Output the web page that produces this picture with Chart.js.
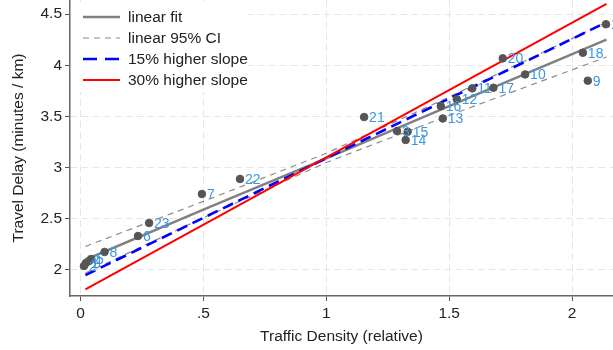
<!DOCTYPE html>
<html>
<head>
<meta charset="utf-8">
<script src="https://cdn.jsdelivr.net/npm/chart.js@4.4.0/dist/chart.umd.min.js"></script>
<style>
  body { margin: 0; background: #fff; }
  #myChart { display: block; }
</style>
</head>
<body>
<canvas id="myChart" width="613" height="350"></canvas>
<script>
// data
var ptLabels = ['2', '1', '4', '5', '8', '6', '23', '7', '22', '21', '3', '15', '14', '13', '16', '12', '11', '17', '10', '20', '18', '9', '19'];
var ptX = [0.014, 0.022, 0.035, 0.043, 0.098, 0.234, 0.279, 0.494, 0.649, 1.154, 1.288, 1.331, 1.323, 1.474, 1.466, 1.531, 1.594, 1.680, 1.809, 1.718, 2.044, 2.064, 2.138];
var ptY = [2.039, 2.068, 2.088, 2.107, 2.176, 2.332, 2.459, 2.742, 2.889, 3.494, 3.357, 3.350, 3.270, 3.480, 3.600, 3.667, 3.774, 3.780, 3.910, 4.067, 4.122, 3.849, 4.400];

var fitX = [0.02, 0.5, 1.0, 1.5, 2.14];
var fitY = [2.10, 2.59, 3.09, 3.60, 4.25];
var ciUpper = [2.23, 2.67, 3.14, 3.69, 4.42];
var ciLower = [1.97, 2.51, 3.05, 3.51, 4.08];

var slopeX = [0.02, 2.14];
var slope15 = [1.95, 4.42];
var slope30 = [1.81, 4.60];

var xTicks = [0, 0.5, 1, 1.5, 2];
var yTicks = [2, 2.5, 3, 3.5, 4, 4.5];

function pairs(xs, ys) {
  return xs.map(function(x, i){ return {x: x, y: ys[i]}; });
}

var font = 'Liberation Sans, Arial, sans-serif';

// labels next to the points
var pointLabels = {
  id: 'pointLabels',
  afterDatasetsDraw: function(chart) {
    var meta = chart.getDatasetMeta(0);
    var ctx = chart.ctx;
    ctx.save();
    ctx.font = '14px ' + font;
    ctx.fillStyle = '#3b97e3';
    ctx.textBaseline = 'middle';
    ctx.textAlign = 'left';
    meta.data.forEach(function(el, i){
      ctx.fillText(ptLabels[i], el.x + 5, el.y + 1);
    });
    ctx.restore();
  }
};

// legend inside the plot, top left
var innerLegend = {
  id: 'innerLegend',
  afterDraw: function(chart) {
    var ctx = chart.ctx;
    var items = chart.data.datasets.slice(1, 5);
    var rows = [17, 38, 59, 80];
    ctx.save();
    ctx.fillStyle = '#fff';
    ctx.fillRect(72, 2, 176, 90);
    items.forEach(function(ds, i){
      ctx.beginPath();
      ctx.strokeStyle = ds.borderColor;
      ctx.lineWidth = ds.borderWidth;
      ctx.setLineDash(ds.legendDash || []);
      ctx.moveTo(83, rows[i]);
      ctx.lineTo(120, rows[i]);
      ctx.stroke();
      ctx.setLineDash([]);
      ctx.fillStyle = '#222';
      ctx.font = '15.5px ' + font;
      ctx.textBaseline = 'middle';
      ctx.fillText(ds.label, 128, rows[i] + 1);
    });
    ctx.restore();
  }
};

// no extra room around the axes
function noPad(s) {
  s.paddingTop = 0;
  s.paddingBottom = 0;
  s.paddingLeft = 0;
  s.paddingRight = 0;
}

var ctx = document.getElementById('myChart');
var chart = new Chart(ctx, {
  type: 'scatter',
  data: {
    datasets: [
      {
        label: 'points',
        data: pairs(ptX, ptY),
        backgroundColor: '#555',
        borderColor: '#555',
        pointRadius: 3.8,
        order: 0
      },
      {
        label: 'linear fit',
        data: pairs(fitX, fitY),
        showLine: true,
        borderColor: '#808080',
        borderWidth: 2.5,
        pointRadius: 0,
        order: 3
      },
      {
        label: 'linear 95% CI',
        data: pairs(fitX, ciUpper),
        showLine: true,
        borderColor: '#8a8a8a',
        borderWidth: 1.2,
        borderDash: [6, 5],
        legendDash: [6, 5],
        pointRadius: 0,
        order: 4
      },
      {
        label: '15% higher slope',
        data: pairs(slopeX, slope15),
        showLine: true,
        borderColor: '#0000ff',
        borderWidth: 2.6,
        borderDash: [11, 6],
        legendDash: [14, 8],
        pointRadius: 0,
        order: 2
      },
      {
        label: '30% higher slope',
        data: pairs(slopeX, slope30),
        showLine: true,
        borderColor: '#ff0000',
        borderWidth: 2,
        pointRadius: 0,
        order: 1
      },
      {
        label: 'ci lower',
        data: pairs(fitX, ciLower),
        showLine: true,
        borderColor: '#8a8a8a',
        borderWidth: 1.2,
        borderDash: [6, 5],
        pointRadius: 0,
        order: 4
      }
    ]
  },
  options: {
    responsive: false,
    animation: false,
    devicePixelRatio: 1,
    layout: { padding: 0, autoPadding: false },
    plugins: {
      legend: { display: false },
      tooltip: { enabled: false }
    },
    scales: {
      x: {
        type: 'linear',
        min: -0.0427,
        max: 2.1666,
        afterBuildTicks: function(s){ s.ticks = xTicks.map(function(v){ return {value: v}; }); },
        afterFit: function(s){ s.height = 54; noPad(s); },
        ticks: {
          callback: function(v){ return String(v).replace(/^0\./, '.'); },
          font: { family: font, size: 15.5 },
          color: '#222',
          padding: 3,
          maxRotation: 0
        },
        grid: { color: '#e6e6e6', lineWidth: 1, tickLength: 5, tickColor: '#555' },
        border: { color: '#666', width: 1.5, dash: [7, 4] },
        title: {
          display: true,
          text: 'Traffic Density (relative)',
          font: { family: font, size: 15.5 },
          color: '#222',
          padding: { top: 0, bottom: 4 }
        }
      },
      y: {
        min: 1.746,
        max: 4.637,
        afterBuildTicks: function(s){ s.ticks = yTicks.map(function(v){ return {value: v}; }); },
        afterFit: function(s){ s.width = 70; noPad(s); },
        ticks: {
          callback: function(v){ return String(v); },
          font: { family: font, size: 15.5 },
          color: '#222',
          padding: 3
        },
        grid: { color: '#e6e6e6', lineWidth: 1, tickLength: 5, tickColor: '#555' },
        border: { color: '#666', width: 1.5, dash: [7, 4] },
        title: {
          display: true,
          text: 'Travel Delay (minutes / km)',
          font: { family: font, size: 15.5 },
          color: '#222',
          padding: { top: 9, bottom: 0 }
        }
      }
    }
  },
  plugins: [pointLabels, innerLegend]
});
// end chart js
</script>
</body>
</html>
